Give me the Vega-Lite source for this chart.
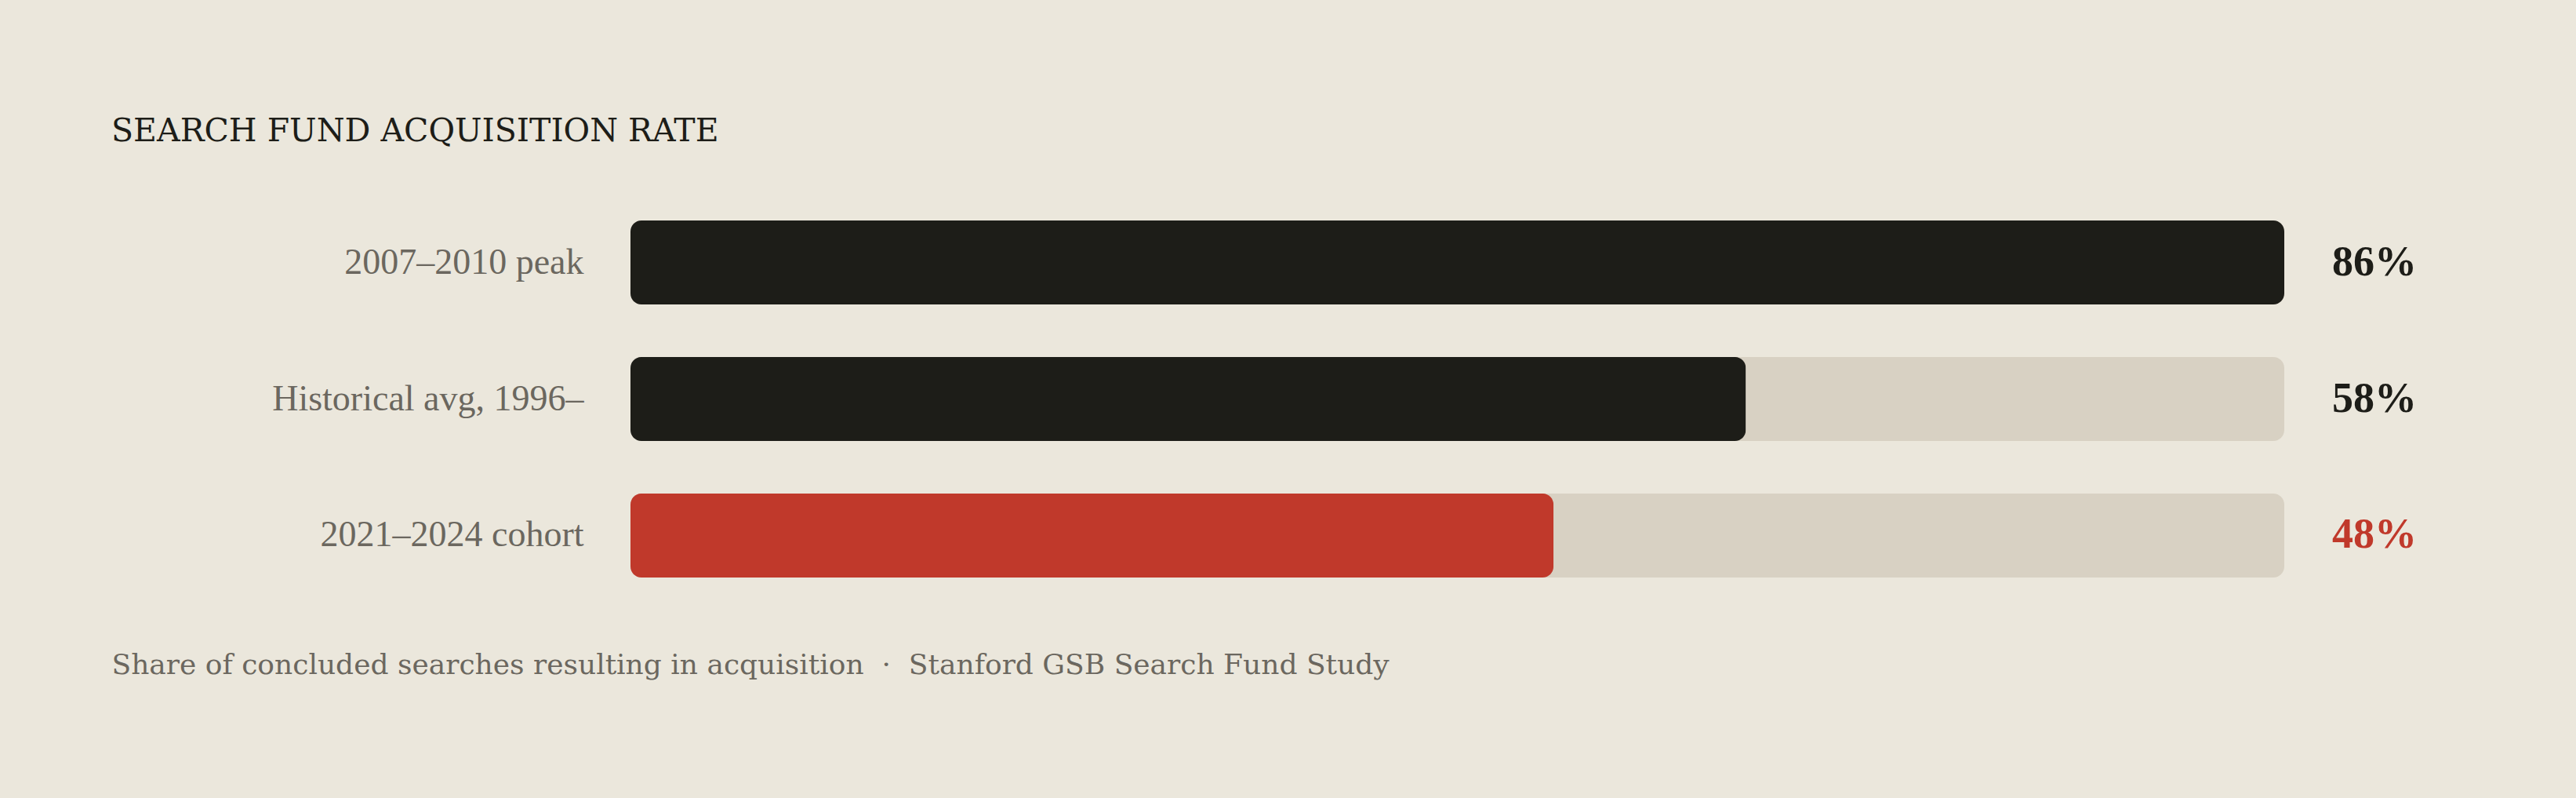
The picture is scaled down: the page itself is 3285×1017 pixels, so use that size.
{
  "$schema": "https://vega.github.io/schema/vega-lite/v6.json",
  "description": "Search fund acquisition rate, horizontal bars on a full-width track.",
  "autosize": "none",
  "padding": {"left": 804, "top": 281, "right": 372, "bottom": 281},
  "width": 2109,
  "height": 455,
  "background": "#ebe7dc",
  "title": {
    "text": "SEARCH FUND ACQUISITION RATE",
    "anchor": "start",
    "frame": "group",
    "dx": -662,
    "offset": 60,
    "baseline": "alphabetic",
    "font": "DejaVu Serif",
    "fontSize": 41,
    "fontWeight": "normal",
    "color": "#1d1d18"
  },
  "data": {
    "values": [
      {"label": "2007–2010 peak", "value": 0.86, "group": "dark"},
      {"label": "Historical avg, 1996–", "value": 0.58, "group": "dark"},
      {"label": "2021–2024 cohort", "value": 0.48, "group": "red"}
    ]
  },
  "encoding": {
    "y": {
      "field": "label",
      "type": "nominal",
      "sort": null,
      "scale": {"paddingInner": 0.385, "paddingOuter": 0},
      "axis": {
        "title": null,
        "labelPadding": 60,
        "labelFontSize": 46,
        "labelFont": "Liberation Serif",
        "labelColor": "#6b675f",
        "labelLimit": 800
      }
    }
  },
  "layer": [
    {
      "mark": {"type": "bar", "color": "#d8d1c3", "cornerRadius": 14},
      "encoding": {
        "x": {"value": 0},
        "x2": {"value": "width"}
      }
    },
    {
      "mark": {"type": "bar", "cornerRadius": 14},
      "encoding": {
        "x": {
          "field": "value",
          "type": "quantitative",
          "scale": {"domain": [0, 0.86], "nice": false},
          "axis": {
            "labels": false,
            "ticks": false,
            "domain": false,
            "grid": false,
            "title": "Share of concluded searches resulting in acquisition \u00a0·\u00a0 Stanford GSB Search Fund Study",
            "titleX": -662,
            "titleY": 122,
            "titleAlign": "left",
            "titleBaseline": "alphabetic",
            "titleFont": "DejaVu Serif",
            "titleFontSize": 36,
            "titleFontWeight": "normal",
            "titleColor": "#6b675f"
          }
        },
        "color": {
          "field": "group",
          "type": "nominal",
          "scale": {"domain": ["dark", "red"], "range": ["#1d1d18", "#c0392b"]},
          "legend": null
        }
      }
    },
    {
      "mark": {"type": "text", "align": "left", "baseline": "middle", "dx": 61, "font": "Liberation Serif", "fontSize": 54, "fontWeight": "bold"},
      "encoding": {
        "x": {"value": "width"},
        "text": {"field": "value", "type": "quantitative", "format": ".0%"},
        "color": {
          "field": "group",
          "type": "nominal",
          "scale": {"domain": ["dark", "red"], "range": ["#1d1d18", "#c0392b"]},
          "legend": null
        }
      }
    }
  ],
  "config": {
    "view": {"stroke": null},
    "axis": {"domain": false, "ticks": false, "grid": false}
  }
}
